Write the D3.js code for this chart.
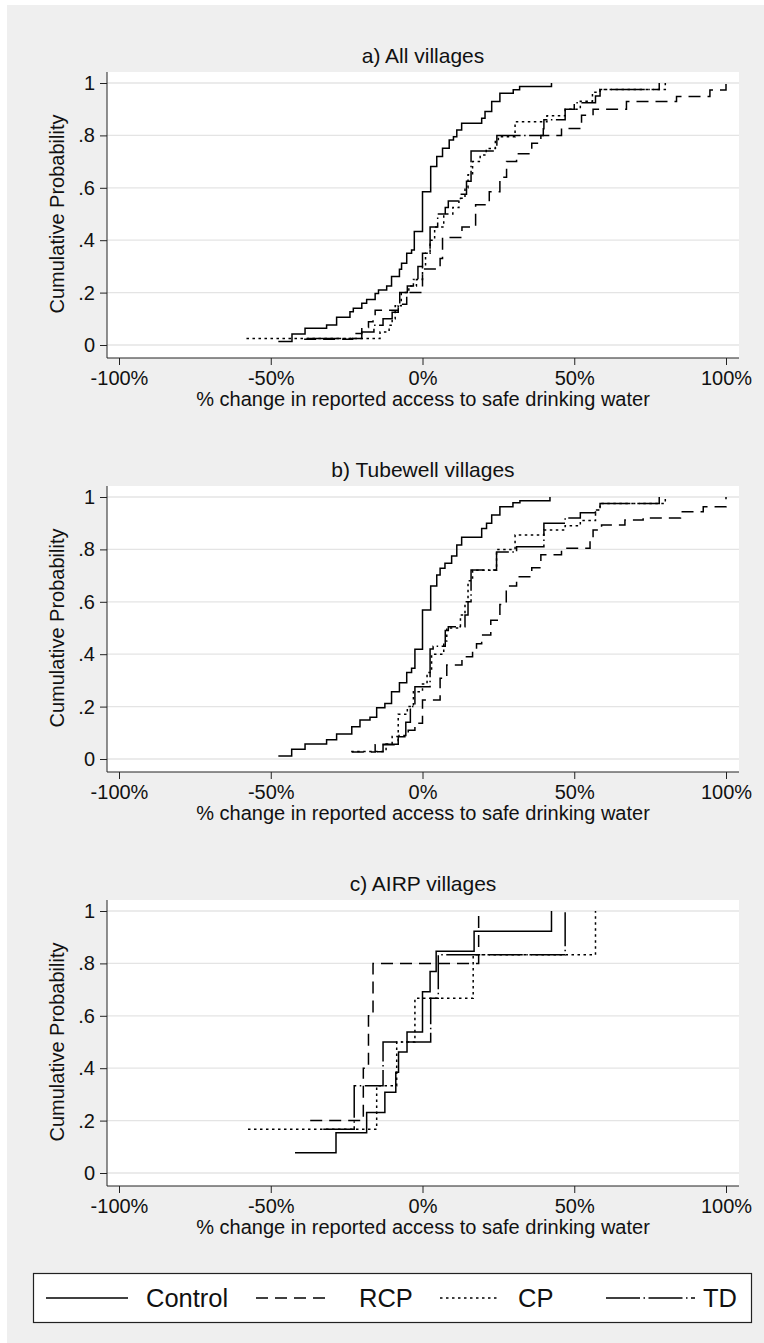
<!DOCTYPE html>
<html lang="en">
<head>
<meta charset="UTF-8">
<title>Cumulative distributions of change in safe water access</title>
<script src="https://cdnjs.cloudflare.com/ajax/libs/d3/7.8.5/d3.min.js"></script>
<style>
  html, body { margin: 0; padding: 0; background: #fff; }
  svg { display: block; font-family: 'Liberation Sans', Arial, Helvetica, sans-serif; }
  .grid line { stroke: #e4e4e4; stroke-width: 1.3; }
  .axis line { stroke: #222; }
  .axis text { font-size: 20px; fill: #111; font-family: 'Liberation Sans', Arial, sans-serif; }
  .series { fill: none; stroke: #000; stroke-width: 1.5; }
</style>
</head>
<body>
<div id="chart"></div>
<script>
// groups and panel titles
const groups = ["Control", "RCP", "CP", "TD"];
const panelTitles = ["a) All villages", "b) Tubewell villages", "c) AIRP villages"];
const xTicks = [-100, -50, 0, 50, 100];
const yTicks = [0, 0.2, 0.4, 0.6, 0.8, 1];

// ECDF steps: [% change, cumulative probability]
const allControl = [[-47.5,.013],[-43,.042],[-38.7,.064],[-31.6,.076],[-28.3,.106],[-23.9,.127],[-22.8,.14],[-20,.159],[-18.4,.174],[-15.6,.197],[-14.5,.21],[-11.8,.225],[-10.2,.261],[-7.6,.289],[-6.9,.312],[-5.2,.35],[-3.6,.363],[-2.7,.433],[0,.585],[2.7,.681],[4.7,.719],[6.6,.751],[8.8,.782],[10.2,.795],[11.3,.821],[12.9,.846],[19.5,.865],[20.6,.891],[22.8,.929],[25.5,.961],[29.9,.974],[32,.987],[42.5,1]];
const allRCP = [[-39,.022],[-23,.044],[-20,.067],[-17.8,.089],[-16.3,.111],[-15.6,.133],[-8,.156],[-5.2,.2],[0,.29],[5.8,.33],[6.6,.41],[13,.45],[17.5,.535],[22,.585],[25.5,.64],[27.7,.7],[31,.73],[36,.77],[39,.8],[45.8,.826],[52.4,.877],[56.2,.9],[67.2,.929],[83.7,.948],[94.7,.973],[100,1]];
const allCP = [[-58,.025],[-14,.05],[-11,.075],[-10,.1],[-9,.15],[-7,.2],[-4.5,.225],[-2,.25],[0,.3],[1,.35],[2.5,.4],[4,.45],[7,.5],[10,.525],[12,.56],[14,.6],[15,.65],[16.5,.7],[19,.725],[21,.75],[24,.78],[25,.795],[30.5,.852],[41,.875],[47,.9],[52,.93],[56,.965],[58.5,.975],[80,1]];
const allTD = [[-38,.025],[-20,.05],[-16,.075],[-13,.1],[-10,.125],[-8,.15],[-7.5,.2],[-5,.225],[-3,.25],[-1.5,.3],[0,.35],[2.5,.45],[5,.5],[7.5,.525],[8.5,.55],[12.5,.575],[14.5,.625],[16,.74],[24,.76],[24.5,.8],[39.8,.825],[40,.86],[47,.9],[50,.925],[57,.95],[58.5,.975],[78,1]];

const tubeControl = [[-47.5,.011],[-43.1,.037],[-38.7,.057],[-31.6,.073],[-28.3,.095],[-23.3,.123],[-20.6,.149],[-17.3,.159],[-15.1,.196],[-12.4,.212],[-10.2,.257],[-7.6,.291],[-5.2,.33],[-3.6,.346],[-2.5,.419],[0,.569],[2.7,.66],[4.7,.702],[5.8,.728],[7.4,.747],[9.6,.775],[11.3,.817],[12.9,.846],[19.5,.88],[21.1,.9],[22.8,.931],[25.5,.963],[29.8,.978],[32.1,.986],[42,1]];
const tubeRCP = [[-23.3,.027],[-15.6,.054],[-8,.085],[-4.7,.11],[-2.5,.136],[0,.225],[5.8,.308],[8,.359],[13,.39],[16.5,.42],[17.8,.44],[19.5,.473],[22.5,.53],[25.5,.59],[27.6,.66],[31,.696],[36,.73],[39,.78],[45.8,.804],[55.2,.84],[56.2,.874],[59,.893],[66.7,.912],[72.7,.92],[85,.944],[92.5,.963],[100,1]];
const tubeCP = [[-23.5,.029],[-12,.057],[-10,.086],[-8,.171],[-5,.2],[-3,.257],[0,.286],[1.5,.33],[3,.4],[7,.45],[8,.5],[12.5,.55],[14,.6],[15,.68],[16.5,.72],[24.4,.8],[30.5,.855],[40,.874],[47,.89],[52,.91],[57,.95],[58.5,.975],[80,1]];
const tubeTD = [[-15,.028],[-13,.056],[-8,.09],[-5.5,.14],[-4,.2],[-2.5,.276],[2.5,.42],[3.5,.43],[7.5,.49],[8.5,.505],[14,.55],[15,.6],[16,.721],[24.4,.79],[31,.81],[40,.9],[47,.92],[52,.94],[57,.95],[58.5,.975],[78,1]];

const airpControl = [[-42,.077],[-28.5,.154],[-18.4,.231],[-12.4,.308],[-8.8,.385],[-7.9,.462],[-5.1,.538],[0,.692],[2.5,.769],[4.5,.846],[17,.923],[42.5,1]];
const airpRCP = [[-37,.2],[-19.5,.4],[-17.8,.6],[-16.3,.8],[18.5,1]];
const airpCP = [[-57.5,.167],[-15.1,.333],[-8.5,.5],[-2.5,.667],[16.7,.833],[57,1]];
const airpTD = [[-32.7,.167],[-22.5,.333],[-13,.5],[2.7,.667],[5.2,.833],[47,1]];

const panels = [
  [allControl, allRCP, allCP, allTD],
  [tubeControl, tubeRCP, tubeCP, tubeTD],
  [airpControl, airpRCP, airpCP, airpTD]
];

const dashes = { Control: null, RCP: "12,7", CP: "2.5,3.5", TD: "34,3.5,1.5,3.5" };

const W = 764, H = 1343;
const panelStep = 414;
const plotL = 107, plotR = 739, plotT = 72, plotB = 358;

const svg = d3.select("#chart").append("svg")
    .attr("width", W).attr("height", H);

svg.append("rect").attr("x", 7).attr("y", 5)
    .attr("width", W - 7).attr("height", H - 5)
    .attr("fill", "#efefef");

const x = d3.scaleLinear().domain([-100, 100]).range([119, 726]);
const y = d3.scaleLinear().domain([0, 1]).range([345, 83]);

const line = d3.line()
    .x(d => x(d[0]))
    .y(d => y(d[1]))
    .curve(d3.curveStepAfter);

const yFmt = d => d === 0 ? "0" : d === 1 ? "1" : String(d).replace("0.", ".");

panels.forEach((series, i) => {
    const g = svg.append("g").attr("transform", `translate(0,${i * panelStep})`);

    g.append("rect")
        .attr("x", plotL).attr("y", plotT)
        .attr("width", plotR - plotL).attr("height", plotB - plotT)
        .attr("fill", "#fff");

    g.append("g").attr("class", "grid")
      .selectAll("line").data(yTicks).join("line")
        .attr("x1", plotL).attr("x2", plotR)
        .attr("y1", d => y(d)).attr("y2", d => y(d));

    g.append("text")
        .attr("x", (plotL + plotR) / 2).attr("y", 63)
        .attr("text-anchor", "middle")
        .attr("font-size", 21).attr("fill", "#111")
        .text(panelTitles[i]);

    series.forEach((s, k) => {
        g.append("path")
            .datum(s)
            .attr("class", "series")
            .attr("stroke-dasharray", dashes[groups[k]])
            .attr("d", line);
    });

    // x axis
    const xa = g.append("g").attr("class", "axis")
        .attr("transform", `translate(0,${plotB})`)
        .call(d3.axisBottom(x).tickValues(xTicks).tickFormat(d => d + "%")
            .tickSize(7).tickPadding(6).tickSizeOuter(0));
    xa.select(".domain").remove();
    xa.append("line").attr("x1", plotL).attr("x2", plotR).attr("y1", 0).attr("y2", 0);

    // y axis
    const ya = g.append("g").attr("class", "axis")
        .attr("transform", `translate(${plotL},0)`)
        .call(d3.axisLeft(y).tickValues(yTicks).tickFormat(yFmt)
            .tickSize(7).tickPadding(5).tickSizeOuter(0));
    ya.select(".domain").remove();
    ya.append("line").attr("x1", 0).attr("x2", 0).attr("y1", plotT).attr("y2", plotB);

    g.append("text")
        .attr("x", (plotL + plotR) / 2).attr("y", 406)
        .attr("text-anchor", "middle")
        .attr("font-size", 20).attr("fill", "#111")
        .text("% change in reported access to safe drinking water");

    g.append("text")
        .attr("transform", `translate(64,${(y(0) + y(1)) / 2}) rotate(-90)`)
        .attr("text-anchor", "middle")
        .attr("font-size", 20).attr("fill", "#111")
        .text("Cumulative Probability");
});

// legend
const lg = svg.append("g");
lg.append("rect")
    .attr("x", 33.5).attr("y", 1273.5)
    .attr("width", 718).attr("height", 49)
    .attr("fill", "#fff").attr("stroke", "#222").attr("stroke-width", 1.2);

const keyLines = [[46, 128], [256, 330], [440, 497], [606, 695]];
const keyText = [146, 359, 518, 703];
groups.forEach((name, k) => {
    lg.append("line")
        .attr("class", "series")
        .attr("x1", keyLines[k][0]).attr("x2", keyLines[k][1])
        .attr("y1", 1298).attr("y2", 1298)
        .attr("stroke-dasharray", dashes[name]);
    lg.append("text")
        .attr("x", keyText[k]).attr("y", 1307)
        .attr("font-size", 25.5).attr("fill", "#111")
        .text(name);
});
</script>
</body>
</html>
